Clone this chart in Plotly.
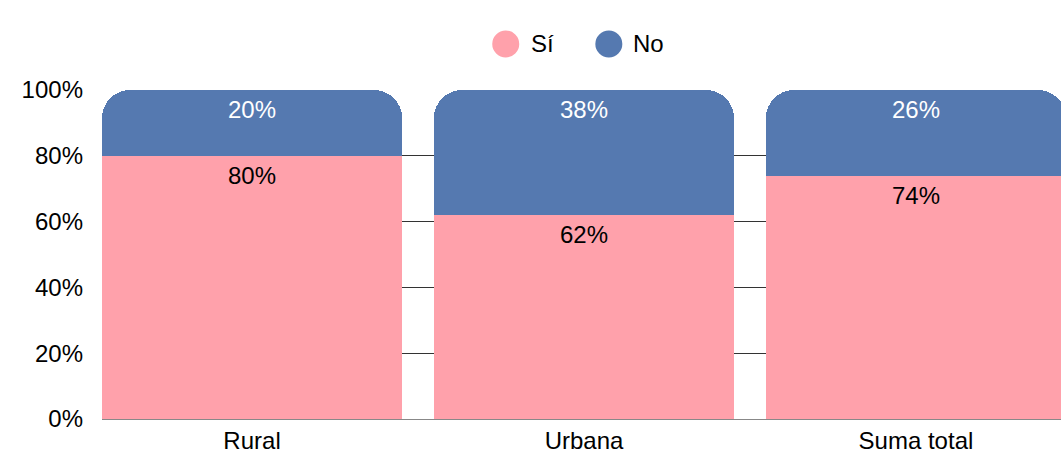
import plotly.graph_objects as go

categories = ["Rural", "Urbana", "Suma total"]
si_values = [80, 62, 74]
no_values = [20, 38, 26]
series_names = ["Sí", "No"]
tick_vals = [0, 20, 40, 60, 80, 100]
tick_text = ["0%", "20%", "40%", "60%", "80%", "100%"]

pink = "#FFA1AB"
blue = "#5579B0"
font_family = "Liberation Sans, Arial, sans-serif"
FS = 24

fig = go.Figure()
fig.add_trace(go.Bar(
    x=categories, y=si_values, name=series_names[0], marker_color=pink,
    showlegend=False, width=0.904, marker_line_width=0,
))
fig.add_trace(go.Bar(
    x=categories, y=no_values, name=series_names[1], marker_color=blue,
    showlegend=False, width=0.904, marker_line_width=0, marker_cornerradius=28,
))

# data labels near the top of each segment
for i, cat in enumerate(categories):
    fig.add_annotation(x=cat, y=si_values[i], text=f"{si_values[i]}%", showarrow=False,
                       yanchor="top", yshift=-4,
                       font=dict(color="black", size=FS, family=font_family))
    fig.add_annotation(x=cat, y=si_values[i] + no_values[i], text=f"{no_values[i]}%",
                       showarrow=False, yanchor="top", yshift=-4,
                       font=dict(color="white", size=FS, family=font_family))

# legend (circle markers + labels)
legend_items = [(series_names[0], pink, 0.421, 0.4455), (series_names[1], blue, 0.5285, 0.552)]
for name, col, cx, tx in legend_items:
    fig.add_shape(type="circle", xref="paper", yref="paper", xsizemode="pixel", ysizemode="pixel",
                  xanchor=cx, yanchor=1.14, x0=-13.5, x1=13.5, y0=-13.5, y1=13.5,
                  fillcolor=col, line_width=0)
    fig.add_annotation(xref="paper", yref="paper", x=tx, y=1.14, text=name, showarrow=False,
                       xanchor="left", yanchor="middle",
                       font=dict(color="black", size=FS, family=font_family))

fig.update_layout(
    barmode="stack",
    width=1061, height=452,
    margin=dict(l=102, r=0, t=90, b=33),
    plot_bgcolor="white", paper_bgcolor="white",
    font=dict(family=font_family, size=FS, color="black"),
    showlegend=False,
    xaxis=dict(range=[-0.452, 2.437], showgrid=False, showline=True, automargin=False,
               linecolor="#888888", linewidth=1, ticks="", tickfont=dict(size=FS)),
    yaxis=dict(range=[0, 100], tickvals=tick_vals, ticktext=tick_text, automargin=False,
               showgrid=True, gridcolor="#333333", gridwidth=1, zeroline=False,
               showline=False, ticks="", tickfont=dict(size=FS), ticklabelstandoff=18),
)
fig.write_html("out.html", config={"displayModeBar": False},
               post_script="document.body.style.margin='0';document.body.style.overflow='hidden';")
